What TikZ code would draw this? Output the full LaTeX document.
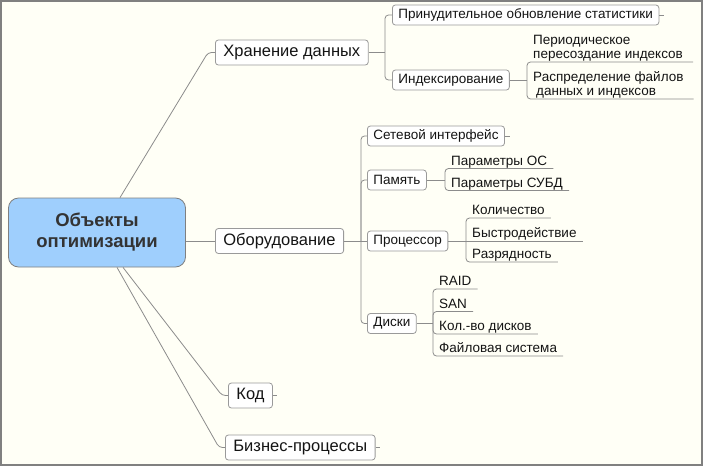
\documentclass[tikz,border=0pt]{standalone}
\usepackage{fontspec}
\setmainfont{Liberation Sans}
\usetikzlibrary{calc}
\definecolor{bgc}{HTML}{FFFFF6}
\definecolor{frm}{HTML}{808080}
\definecolor{lnc}{HTML}{8C8C8C}
\definecolor{bxc}{HTML}{9A9A9A}
\definecolor{rootfill}{HTML}{9FCFFD}
\definecolor{txt}{HTML}{141414}
\definecolor{roottxt}{HTML}{333333}
\tikzset{
  conn/.style={draw=lnc, line width=0.8pt, rounded corners=3.5pt},
  stub/.style={draw=lnc, line width=0.8pt},
  rootbox/.style={draw=frm, fill=rootfill, rounded corners=10pt, line width=0.8pt,
    minimum width=177pt, minimum height=69pt, align=center, text=roottxt,
    font=\fontsize{18.5}{21}\selectfont\bfseries},
  lvlone/.style={draw=bxc, fill=white, rounded corners=3pt, line width=0.8pt,
    font=\fontsize{16.5}{19}\selectfont, inner xsep=8pt, inner ysep=0pt,
    minimum height=25pt, anchor=west, text=txt},
  lvltwo/.style={draw=bxc, fill=white, rounded corners=3pt, line width=0.8pt,
    font=\fontsize{13.5}{16}\selectfont, inner xsep=6pt, inner ysep=0pt,
    minimum height=20pt, anchor=west, text=txt},
  leaf/.style={font=\fontsize{13.5}{14}\selectfont, inner xsep=6pt, inner ysep=1pt,
    text depth=2.2pt, anchor=south west, align=left, text=txt},
}
\begin{document}
\begin{tikzpicture}[x=1pt,y=-1pt]
\fill[bgc] (0,0) rectangle (703,466);
\draw[frm, line width=2pt] (1,1) rectangle (702,465);
\useasboundingbox (0,0) rectangle (703,466);

% root and level one
\node[rootbox] (root) at (97,232.5) {Объекты\\оптимизации};
\node[lvlone] (hran) at (215,52.5) {Хранение данных};
\node[lvlone] (obor) at (215,241) {Оборудование};
\node[lvlone] (kod) at (228,395.5) {Код};
\node[lvlone] (biz) at (225,447.5) {Бизнес-процессы};

% storage branch
\node[lvltwo] (prin) at (392,15) {Принудительное обновление статистики};
\node[lvltwo] (idx) at (392,80) {Индексирование};
\node[leaf] (per) at (527,62) {Периодическое\\пересоздание индексов};
\node[leaf] (raspr) at (527,99) {Распределение файлов\\\hspace*{3pt}данных и индексов};

% hardware branch
\node[lvltwo] (net) at (367,136) {Сетевой интерфейс};
\node[lvltwo] (mem) at (367,180) {Память};
\node[lvltwo] (cpu) at (367,241) {Процессор};
\node[lvltwo] (disk) at (367,323.5) {Диски};
\node[leaf] (os) at (445,168.5) {Параметры ОС};
\node[leaf] (dbms) at (445,190.5) {Параметры СУБД};
\node[leaf] (cnt) at (466,218) {Количество};
\node[leaf] (spd) at (466,241) {Быстродействие};
\node[leaf] (bits) at (466,262) {Разрядность};
\node[leaf] (raid) at (433,289) {RAID};
\node[leaf] (san) at (433,311.5) {SAN};
\node[leaf] (ndisk) at (433,334) {Кол.-во дисков};
\node[leaf] (fs) at (433,356) {Файловая система};

% junctions
\coordinate (j1) at (385,52.5);
\coordinate (j2) at (527,80);
\coordinate (j3) at (361,241);
\coordinate (j4) at (445,180);
\coordinate (j5) at (466,241);
\coordinate (j6) at (433,323.5);

% root connectors
\draw[conn] ($(root.north)+(23,0)$) -- ($(hran.west)+(-7,0)$) -- (hran.west);
\draw[conn] (root.east |- obor.west) -- (obor.west);
\draw[conn] ($(root.south)+(26,0)$) -- ($(kod.west)+(-6,0)$) -- (kod.west);
\draw[conn] ($(root.south)+(20,0)$) -- ($(biz.west)+(-6,0)$) -- (biz.west);

% storage connectors
\draw[conn] (hran.east) -- (j1);
\draw[conn] (j1) |- (prin.west);
\draw[conn] (j1) |- (idx.west);
\draw[conn] (idx.east) -- (j2);
\draw[conn] (j2) -- (j2 |- per.south) -- ($(per.south east)+(4,0)$);
\draw[conn] (j2) -- (j2 |- raspr.south) -- ($(raspr.south east)+(4,0)$);

% hardware connectors
\draw[conn] (obor.east) -- (j3);
\draw[conn] (j3) |- (net.west);
\draw[conn] (j3) |- (mem.west);
\draw[conn] (j3) -- (cpu.west);
\draw[conn] (j3) |- (disk.west);

\draw[conn] (mem.east) -- (j4);
\draw[conn] (j4) -- (j4 |- os.south) -- (os.south east);
\draw[conn] (j4) -- (j4 |- dbms.south) -- (dbms.south east);

\draw[conn] (cpu.east) -- (j5);
\draw[conn] (j5) -- (j5 |- cnt.south) -- (cnt.south east);
\draw[conn] (j5) -- (spd.south east);
\draw[conn] (j5) -- (j5 |- bits.south) -- (bits.south east);

\draw[conn] (disk.east) -- (j6);
\draw[conn] (j6) -- (j6 |- raid.south) -- (raid.south east);
\draw[conn] (j6) -- (j6 |- san.south) -- (san.south east);
\draw[conn] (j6) -- (j6 |- ndisk.south) -- (ndisk.south east);
\draw[conn] (j6) -- (j6 |- fs.south) -- (fs.south east);

% stubs
\draw[stub] (prin.east) -- ++(5,0);
\draw[stub] (net.east) -- ++(5,0);
\draw[stub] (kod.east) -- ++(4,0);
\draw[stub] (biz.east) -- ++(4,0);
\end{tikzpicture}
\end{document}
